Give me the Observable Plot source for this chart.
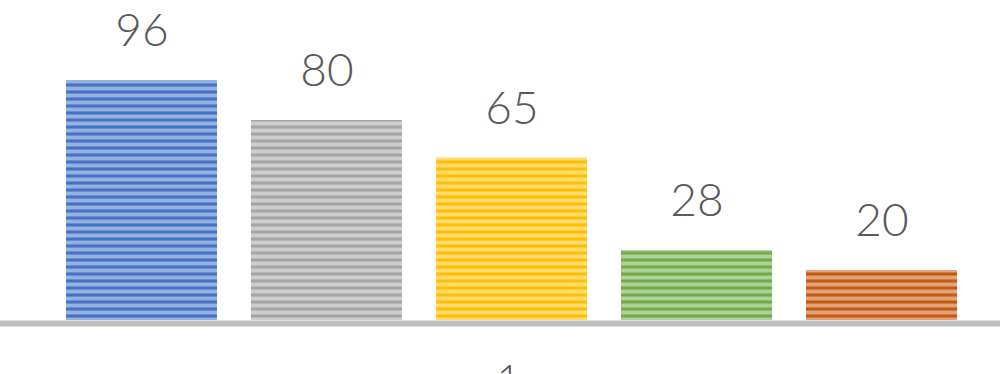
<!DOCTYPE html>
<html>
<head>
<meta charset="utf-8">
<script src="https://cdn.jsdelivr.net/npm/d3@7"></script>
<script src="https://cdn.jsdelivr.net/npm/@observablehq/plot@0.6"></script>
<style>
  html, body { margin: 0; padding: 0; background: #ffffff; }
  #chart svg { display: block; }
</style>
</head>
<body>
<div id="chart"></div>
<script>
// Data
const series = ["Series 1", "Series 2", "Series 3", "Series 4", "Series 5"];
const values = [96, 80, 65, 28, 20];
const categoryLabels = ["1"];
const baseColors = ["#4472c4", "#a5a5a5", "#ffc000", "#70ad47", "#c55a11"];

const data = series.map((s, i) => ({ series: s, value: values[i] }));
const patternIds = series.map((s, i) => `url(#stripe${i})`);

const plot = Plot.plot({
  width: 1000,
  height: 374,
  marginLeft: 0,
  marginRight: 0,
  marginTop: 0,
  marginBottom: 0,
  x: { domain: series, range: [31, 992], padding: 0.185, axis: null },
  y: { domain: [0, 96], range: [320, 80], axis: null },
  color: { domain: series, range: patternIds },
  marks: [
    Plot.barY(data, { x: "series", y: "value", fill: "series" }),
    Plot.ruleY([0], { stroke: "#bfbfbf", strokeWidth: 6, dy: 3 }),
    Plot.text(data, {
      x: "series", y: "value", text: d => String(d.value),
      dy: -49, fill: "#595959", fontSize: 46, fontFamily: "Lato", fontWeight: 300
    }),
    Plot.text(categoryLabels, {
      frameAnchor: "bottom", text: d => d, lineAnchor: "top",
      dx: 8, dy: -10, fill: "#595959", fontSize: 40, fontFamily: "Lato", fontWeight: 300
    })
  ]
});

// stripe patterns for the bars
const svg = d3.select(plot);
const defs = svg.insert("defs", ":first-child");
baseColors.forEach((c, i) => {
  const p = defs.append("pattern")
    .attr("id", `stripe${i}`)
    .attr("patternUnits", "userSpaceOnUse")
    .attr("width", 20).attr("height", 7);
  p.append("rect").attr("width", 20).attr("height", 7).attr("fill", c);
  p.append("rect").attr("y", 3).attr("width", 20).attr("height", 3)
    .attr("fill", "#ffffff").attr("fill-opacity", 0.45);
  p.append("rect").attr("y", 2).attr("width", 20).attr("height", 1)
    .attr("fill", "#ffffff").attr("fill-opacity", 0.2);
  p.append("rect").attr("y", 6).attr("width", 20).attr("height", 1)
    .attr("fill", "#ffffff").attr("fill-opacity", 0.2);
});

document.getElementById("chart").appendChild(plot);
</script>
</body>
</html>
